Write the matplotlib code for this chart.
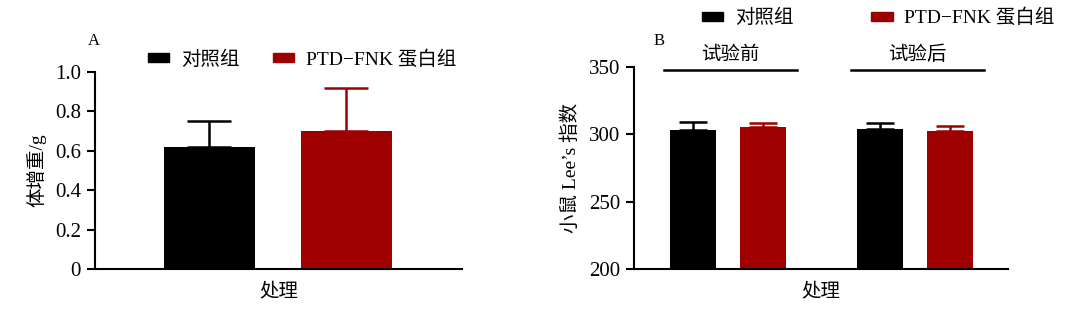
import matplotlib.pyplot as plt
from matplotlib.patches import Patch

plt.rcParams['font.family'] = ['Liberation Serif', 'Noto Sans CJK SC']
plt.rcParams['axes.unicode_minus'] = False

groups = ["对照组", "PTD−FNK 蛋白组"]
colors = ["#000000", "#9e0000"]

# A: 体增重
gain_mean = [0.62, 0.70]
gain_err = [0.133, 0.218]

# B: Lee's 指数, 试验前 / 试验后
stages = ["试验前", "试验后"]
lee_ctrl = [303.3, 304.0]
lee_ctrl_err = [5.8, 4.6]
lee_ptd = [305.5, 302.5]
lee_ptd_err = [3.2, 3.7]

fig = plt.figure(figsize=(10.79, 3.13), dpi=100)
axA = fig.add_axes([0.088, 0.1406, 0.340, 0.630])
axB = fig.add_axes([0.5876, 0.1406, 0.3466, 0.645])

for ax in (axA, axB):
    for s in ("top", "right"):
        ax.spines[s].set_visible(False)
    ax.spines["left"].set_linewidth(1.5)
    ax.spines["bottom"].set_linewidth(1.5)
    ax.tick_params(axis="y", direction="out", length=6, width=1.5, labelsize=15, pad=4)
    ax.set_xticks([])

# panel A
xa = [0, 1]
for i in range(2):
    axA.bar(xa[i], gain_mean[i], width=0.664, color=colors[i])
    axA.errorbar(xa[i], gain_mean[i], yerr=[[0], [gain_err[i]]], color=colors[i],
                 capsize=16, elinewidth=1.8, capthick=1.8, fmt="none")
axA.set_xlim(-0.836, 1.843)
axA.set_ylim(0, 1.0)
axA.set_yticks([0, 0.2, 0.4, 0.6, 0.8, 1.0])
axA.set_yticklabels(["0", "0.2", "0.4", "0.6", "0.8", "1.0"])
axA.set_ylabel("体增重/g", fontsize=14, labelpad=6)
axA.set_xlabel("处理", fontsize=14, labelpad=10)
fig.text(0.081, 0.855, "A", fontsize=12)

handles = [Patch(color=colors[i], label=groups[i]) for i in range(2)]
fig.legend(handles=handles, loc="center", bbox_to_anchor=(0.28, 0.81), ncol=2,
           frameon=False, fontsize=14, handlelength=1.1, handleheight=0.35,
           handletextpad=0.6, columnspacing=1.7)

# panel B
off = 0.187
bw = 0.246
for j in range(2):
    axB.bar(j - off, lee_ctrl[j], width=bw, color=colors[0])
    axB.errorbar(j - off, lee_ctrl[j], yerr=[[0], [lee_ctrl_err[j]]], color=colors[0],
                 capsize=10, elinewidth=1.8, capthick=1.8, fmt="none")
    axB.bar(j + off, lee_ptd[j], width=bw, color=colors[1])
    axB.errorbar(j + off, lee_ptd[j], yerr=[[0], [lee_ptd_err[j]]], color=colors[1],
                 capsize=10, elinewidth=1.8, capthick=1.8, fmt="none")
    axB.plot([j - 0.34, j + 0.37], [348, 348], color="black", lw=1.8, clip_on=False)
    axB.text(j + 0.01, 352, stages[j], ha="center", va="bottom", fontsize=14)
axB.set_xlim(-0.503, 1.497)
axB.set_ylim(200, 350)
axB.set_yticks([200, 250, 300, 350])
axB.set_ylabel("小鼠 Lee’s 指数", fontsize=14, labelpad=6)
axB.set_xlabel("处理", fontsize=14, labelpad=10)
fig.text(0.606, 0.855, "B", fontsize=12)

fig.legend(handles=handles, loc="center", bbox_to_anchor=(0.814, 0.942), ncol=2,
           frameon=False, fontsize=14, handlelength=1.1, handleheight=0.35,
           handletextpad=0.6, columnspacing=4.0)

fig.savefig("out.png", dpi=100)
